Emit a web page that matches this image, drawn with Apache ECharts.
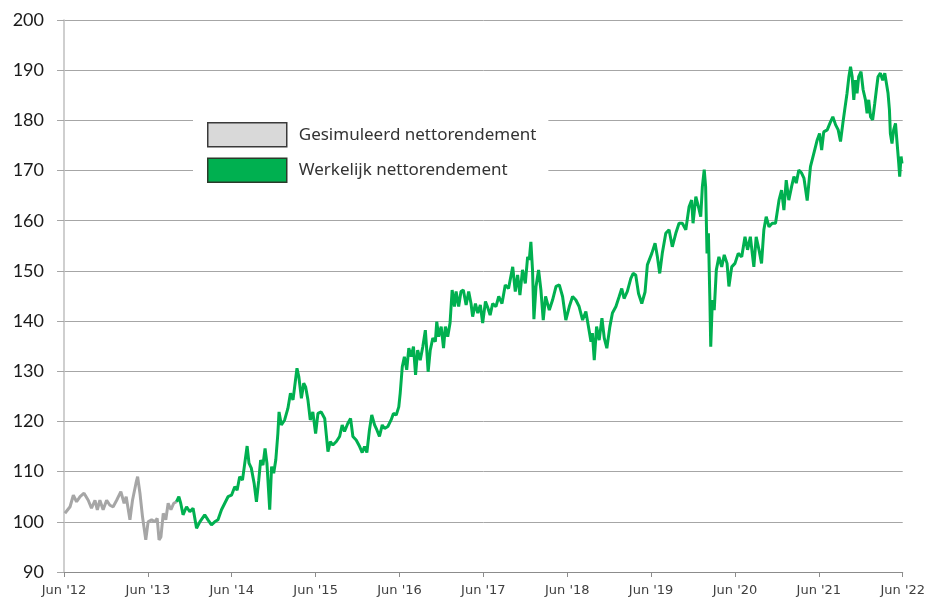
<!DOCTYPE html>
<html>
<head>
<meta charset="utf-8">
<script src="https://cdn.jsdelivr.net/npm/echarts@6/dist/echarts.min.js"></script>
<style>html,body{margin:0;padding:0;background:#fff}#c{width:928px;height:604px}</style>
</head>
<body>
<div id="c"></div>
<script>
const seriesNames = ['Gesimuleerd nettorendement', 'Werkelijk nettorendement'];
const xTickLabels = ["Jun '12", "Jun '13", "Jun '14", "Jun '15", "Jun '16", "Jun '17", "Jun '18", "Jun '19", "Jun '20", "Jun '21", "Jun '22"];
const yMin = 90, yMax = 200, yStep = 10;

const simDates = ['2012-06-05','2012-06-27','2012-07-11','2012-07-25','2012-08-10','2012-08-27','2012-09-15','2012-09-29','2012-10-14','2012-10-24','2012-11-05','2012-11-19','2012-12-04','2012-12-18','2013-01-02','2013-01-17','2013-02-05','2013-02-19','2013-02-28','2013-03-14','2013-03-25','2013-04-10','2013-04-17','2013-04-27','2013-05-08','2013-05-15','2013-05-22','2013-06-02','2013-06-17','2013-07-01','2013-07-11','2013-07-19','2013-07-27','2013-08-07','2013-08-18','2013-08-28','2013-09-10','2013-09-22','2013-10-04'];
const simValues = [101.7,103.0,105.3,104.0,105.0,105.7,104.3,102.7,104.3,102.4,104.3,102.4,104.3,103.3,103.0,104.3,106.0,103.7,105.0,100.4,104.3,107.7,109.0,105.7,101.0,98.7,96.4,100.0,100.4,100.0,100.7,96.4,97.0,101.7,100.4,103.7,102.4,103.7,104.0];

const actDates = ['2013-10-04','2013-10-14','2013-10-22','2013-11-02','2013-11-17','2013-12-01','2013-12-15','2013-12-30','2014-01-14','2014-02-05','2014-02-19','2014-03-04','2014-03-18','2014-04-02','2014-04-17','2014-05-01','2014-05-15','2014-05-30','2014-06-14','2014-06-24','2014-07-05','2014-07-17','2014-07-27','2014-08-07','2014-08-15','2014-08-25','2014-09-07','2014-09-17','2014-09-27','2014-10-05','2014-10-15','2014-10-24','2014-11-02','2014-11-14','2014-11-22','2014-12-01','2014-12-10','2014-12-19','2014-12-24','2015-01-04','2015-01-18','2015-02-02','2015-02-13','2015-02-24','2015-03-01','2015-03-11','2015-03-19','2015-03-30','2015-04-10','2015-04-18','2015-04-28','2015-05-08','2015-05-19','2015-06-01','2015-06-11','2015-06-25','2015-07-10','2015-07-24','2015-08-04','2015-08-15','2015-08-30','2015-09-14','2015-09-25','2015-10-05','2015-10-19','2015-11-01','2015-11-11','2015-11-25','2015-12-10','2015-12-21','2016-01-01','2016-01-11','2016-01-22','2016-02-02','2016-02-14','2016-02-24','2016-03-05','2016-03-17','2016-03-27','2016-04-11','2016-04-25','2016-05-05','2016-05-17','2016-05-28','2016-06-04','2016-06-13','2016-06-22','2016-07-02','2016-07-11','2016-07-21','2016-08-01','2016-08-10','2016-08-19','2016-08-30','2016-09-11','2016-09-22','2016-09-28','2016-10-04','2016-10-13','2016-10-24','2016-11-05','2016-11-11','2016-11-19','2016-11-30','2016-12-10','2016-12-18','2016-12-28','2017-01-08','2017-01-17','2017-01-27','2017-02-04','2017-02-15','2017-02-25','2017-03-05','2017-03-17','2017-03-28','2017-04-08','2017-04-15','2017-04-27','2017-05-07','2017-05-18','2017-05-28','2017-06-10','2017-06-19','2017-06-30','2017-07-11','2017-07-25','2017-08-07','2017-08-21','2017-09-05','2017-09-19','2017-10-07','2017-10-18','2017-10-28','2017-11-08','2017-11-19','2017-12-01','2017-12-11','2017-12-18','2017-12-25','2018-01-02','2018-01-08','2018-01-17','2018-01-28','2018-02-08','2018-02-18','2018-02-28','2018-03-14','2018-03-28','2018-04-13','2018-04-27','2018-05-11','2018-05-25','2018-06-10','2018-06-24','2018-07-08','2018-07-22','2018-08-07','2018-08-21','2018-09-02','2018-09-13','2018-09-19','2018-09-27','2018-10-07','2018-10-18','2018-10-30','2018-11-10','2018-11-21','2018-12-04','2018-12-15','2018-12-30','2019-01-14','2019-01-25','2019-02-05','2019-02-19','2019-03-04','2019-03-14','2019-03-25','2019-04-07','2019-04-21','2019-05-05','2019-05-15','2019-06-04','2019-06-18','2019-06-28','2019-07-08','2019-07-19','2019-08-04','2019-08-18','2019-09-02','2019-09-17','2019-10-01','2019-10-15','2019-10-30','2019-11-14','2019-11-25','2019-12-01','2019-12-13','2019-12-24','2020-01-04','2020-01-11','2020-01-19','2020-01-25','2020-02-01','2020-02-07','2020-02-13','2020-02-17','2020-02-24','2020-03-02','2020-03-11','2020-03-22','2020-04-04','2020-04-15','2020-04-27','2020-05-05','2020-05-17','2020-06-01','2020-06-15','2020-06-30','2020-07-14','2020-07-25','2020-08-07','2020-08-22','2020-09-02','2020-09-14','2020-09-25','2020-10-05','2020-10-15','2020-10-27','2020-11-11','2020-11-25','2020-12-10','2020-12-21','2021-01-01','2021-01-11','2021-01-22','2021-02-04','2021-02-14','2021-02-24','2021-03-05','2021-03-17','2021-03-27','2021-04-11','2021-04-25','2021-05-10','2021-05-24','2021-06-04','2021-06-13','2021-06-22','2021-07-07','2021-07-21','2021-08-01','2021-08-13','2021-08-24','2021-09-04','2021-09-14','2021-09-22','2021-10-02','2021-10-10','2021-10-17','2021-10-24','2021-11-01','2021-11-08','2021-11-15','2021-11-22','2021-12-02','2021-12-11','2021-12-21','2021-12-28','2022-01-05','2022-01-13','2022-01-22','2022-02-01','2022-02-08','2022-02-15','2022-02-25','2022-03-05','2022-03-14','2022-03-21','2022-03-28','2022-04-04','2022-04-08','2022-04-15','2022-04-22','2022-04-30','2022-05-07','2022-05-14','2022-05-18','2022-05-24','2022-05-28'];
const actValues = [104.0,105.0,103.7,101.4,103.0,102.0,102.7,98.7,100.0,101.4,100.4,99.4,100.0,100.4,102.4,103.7,105.0,105.3,107.0,106.3,109.0,108.3,111.7,115.1,111.7,110.7,107.7,104.0,108.3,112.3,111.3,114.6,111.7,102.4,111.0,109.7,112.3,117.6,121.9,119.3,120.3,122.6,125.6,124.3,126.9,130.6,128.9,124.6,127.6,126.9,124.3,120.3,121.9,117.6,121.6,121.9,120.6,114.0,116.0,115.3,116.0,117.0,119.3,118.0,119.6,120.6,117.0,116.3,115.0,113.8,115.0,113.8,118.3,121.3,119.3,118.3,117.0,119.3,118.6,119.0,120.3,121.6,121.3,122.9,125.6,130.9,132.9,130.3,134.6,132.9,134.9,129.3,134.2,132.2,134.9,138.2,134.2,129.9,134.2,136.6,135.9,139.9,136.9,138.9,134.6,138.9,136.9,139.6,146.2,142.9,145.9,142.9,145.9,146.2,143.2,145.9,143.5,140.9,143.5,141.6,143.2,139.6,143.9,142.8,141.2,143.5,142.9,144.9,143.5,147.2,146.5,150.8,145.9,149.2,145.2,150.2,147.5,152.8,152.2,155.8,150.2,140.4,146.9,150.2,146.2,140.2,144.9,142.2,144.2,146.9,147.2,144.9,140.2,142.9,144.9,144.2,142.9,140.2,141.9,138.9,135.9,137.6,132.2,138.9,136.2,140.6,136.6,134.6,138.9,141.6,142.9,144.9,146.5,144.5,145.9,148.5,149.5,149.2,145.5,143.5,145.8,151.2,153.5,155.5,152.8,149.5,153.5,157.5,158.2,154.8,157.5,159.5,159.5,158.2,162.8,164.1,159.5,164.8,162.8,160.8,166.8,170.2,166.8,153.5,157.5,144.9,134.9,144.2,142.2,150.2,152.8,150.8,153.2,151.5,146.9,150.8,151.5,153.5,152.8,156.8,154.2,156.8,150.8,156.8,154.2,151.5,158.2,160.8,158.8,159.5,159.5,164.1,166.1,162.1,168.1,164.1,166.8,168.8,167.5,170.1,169.5,168.5,164.0,170.8,173.5,176.1,177.4,174.1,177.7,178.1,179.7,180.7,179.1,178.1,175.8,179.4,182.1,185.4,188.7,190.7,188.7,184.1,188.0,185.4,188.7,189.7,186.1,184.1,181.4,184.1,180.7,180.1,183.4,186.1,188.7,189.4,188.0,189.4,187.4,185.4,182.1,177.4,175.4,178.1,179.4,175.4,171.4,168.8,172.8,171.4];

// months elapsed since 1 June 2012 (the x axis runs in months)
function monthOffset(s) {
  const p = s.split('-').map(Number);
  return (p[0] - 2012) * 12 + (p[1] - 6) + (p[2] - 1) / 30;
}
function pairs(dates, values) { return dates.map((d, i) => [monthOffset(d), values[i]]); }

const chart = echarts.init(document.getElementById('c'), null, { renderer: 'canvas' });
chart.setOption({
  animation: false,
  backgroundColor: '#ffffff',
  grid: { left: 64, right: 24, top: 20, bottom: 32, containLabel: false },
  legend: {
    orient: 'vertical',
    left: 193, top: 113,
    padding: [9, 12, 5, 14],
    itemGap: 10,
    itemWidth: 79, itemHeight: 24,
    backgroundColor: '#ffffff',
    textStyle: { fontFamily: 'Noto Sans', fontSize: 17, color: '#333333', padding: [0, 0, 0, 7] },
    data: [
      { name: seriesNames[0], icon: 'rect', itemStyle: { color: '#d9d9d9', borderColor: '#3a3a3a', borderWidth: 1.5 } },
      { name: seriesNames[1], icon: 'rect', itemStyle: { color: '#00b050', borderColor: '#2a3a2a', borderWidth: 1.5 } }
    ]
  },
  xAxis: {
    type: 'value', min: 0, max: 120, interval: 12,
    axisLine: { show: true, lineStyle: { color: '#8c8c8c', width: 1 } },
    axisTick: { show: true, length: 5, lineStyle: { color: '#8c8c8c' } },
    splitLine: { show: false },
    axisLabel: {
      margin: 12, fontFamily: 'DejaVu Sans', fontSize: 13, color: '#404040',
      formatter: v => xTickLabels[Math.round(v / 12)]
    }
  },
  yAxis: {
    type: 'value', min: yMin, max: yMax, interval: yStep,
    axisLine: { show: true, lineStyle: { color: '#bfbfbf', width: 1.5 } },
    axisTick: { show: true, length: 7, lineStyle: { color: '#a6a6a6' } },
    splitLine: { show: true, lineStyle: { color: '#a6a6a6', width: 1 } },
    axisLabel: { margin: 20, fontFamily: 'Lato', fontSize: 18, color: '#1a1a1a' }
  },
  series: [
    { name: seriesNames[0], type: 'line', data: pairs(simDates, simValues), showSymbol: false, symbol: 'none',
      lineStyle: { color: '#a6a6a6', width: 3 }, itemStyle: { color: '#a6a6a6' }, z: 3 },
    { name: seriesNames[1], type: 'line', data: pairs(actDates, actValues), showSymbol: false, symbol: 'none',
      lineStyle: { color: '#00b050', width: 3 }, itemStyle: { color: '#00b050' }, z: 3 }
  ]
});
</script>
</body>
</html>
